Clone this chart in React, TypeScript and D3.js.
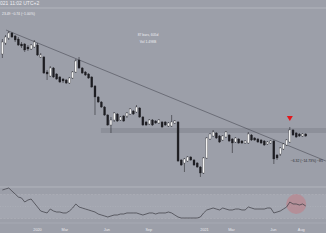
import React from 'react';
import * as d3 from 'd3';

const START = new Date(2019, 9, 16);

const opens = [146,157,162,167,164,161,156,156,153,151,153,155,143,143,128,124,132,126,123,121,120,117,122,128,140,132,128,126,123,114,103,98,93,85,75,80,86,80,84,84,86,89,88,92,83,78,76,80,79,77,78,78,74,74,77,78,40,37,39,43,40,37,33,27,42,61,64,67,64,60,63,65,61,58,61,59,57,57,65,62,61,60,59,56,57,59,45,46,51,55,58,70,67,66,64,66];
const highs = [161,165,169,168,165,163,158,157,155,156,160,157,147,144,130,134,133,127,124,122,121,123,129,141,143,133,129,127,124,115,104,99,94,86,83,88,87,84,85,88,92,90,95,93,84,79,81,81,80,81,79,79,78,85,80,79,41,42,44,44,41,38,34,43,63,67,70,68,65,65,69,66,62,63,62,60,60,68,66,63,62,61,60,59,60,60,46,53,57,61,73,71,68,67,67,67];
const lows = [142,155,160,162,158,154,152,148,149,150,152,144,142,126,120,123,122,120,117,117,116,116,121,127,131,126,124,121,112,85,97,92,84,74,67,78,78,79,78,82,85,85,87,82,74,74,75,74,76,76,72,74,73,73,76,38,34,28,38,39,34,32,23,26,41,60,63,61,57,59,62,58,47,57,56,56,56,56,59,59,57,56,54,55,56,36,40,44,50,54,57,64,62,63,63,63];
const closes = [158,163,167,163,160,155,154,150,151,155,158,145,145,127,126,132,123,121,118,119,117,122,128,139,132,127,125,122,113,103,98,93,85,75,80,87,79,83,79,87,91,86,93,83,75,75,80,75,77,80,73,75,77,78,79,39,35,41,43,40,35,33,27,42,62,66,68,62,58,64,68,59,57,62,57,57,59,66,60,60,58,57,55,58,59,41,42,52,56,60,70,65,63,64,66,64];
const rsiValues = [77.5,79.2,80.8,75.8,70.8,65.8,64.2,57.5,60.8,62.5,55.8,49.2,42.5,40.8,39.2,45.8,42.5,40.8,40.8,39.2,39.2,42.5,47.5,54.2,49.2,47.5,45.8,44.2,42.5,40.8,37.5,35.8,34.2,32.5,34.2,35.8,35.8,37.5,37.5,39.2,39.2,39.2,39.2,37.5,35.8,37.5,39.2,39.2,37.5,39.2,39.2,39.2,40.8,39.2,35.8,32.5,30.8,30.8,30.8,30.8,30.8,30.8,32.5,39.2,44.2,45.8,47.5,45.8,44.2,47.5,45.8,44.2,44.2,45.8,45.8,44.2,44.2,49.2,47.5,45.8,45.8,45.8,45.8,47.5,47.5,39.2,40.8,42.5,45.8,49.2,57.5,54.2,54.2,52.5,54.2,50.8];

const tickDates = [new Date(2020,0,1), new Date(2020,2,1), new Date(2020,5,1), new Date(2020,8,1), new Date(2021,0,1), new Date(2021,2,1), new Date(2021,5,1), new Date(2021,7,1)];
const tickLabels = ['2020','Mar','Jun','Sep','2021','Mar','Jun','Aug'];

const trendDates = [new Date(2019,9,24), new Date(2021,8,24)];
const trendValues = [170, 39];
const zoneStart = new Date(2020,4,19);
const zoneValues = [67, 72];
const rsiLevels = [70, 50, 30];

const headerText = '021 11:02 UTC+2';
const ohlcText = '23.49 \u22120.74 (\u22121.00%)';
const rangeText = ['87 bars, 605d', 'Vol 1.498B'];
const measureText = '\u22126.32 (\u221214.73%) \u221285';
const markerIndex = 90;
const markerValue = 84;
const circleIndex = 92;
const measureValue = 38;

export default function App() {
  const W = 326, H = 245;
  const n = opens.length;
  const dates = d3.range(n).map(i => d3.timeDay.offset(START, 7 * i));
  const x = d3.scaleTime().domain([new Date(2020,0,1), new Date(2021,0,1)]).range([37.5, 204.5]);
  const y = d3.scaleLinear().domain([0, 200]).range([200, 0]);
  const yR = d3.scaleLinear().domain([0, 100]).range([236.5, 176.5]);
  const rsiLine = d3.line<number>().x((_, i) => x(dates[i])).y(d => yR(d));
  const font = "'Liberation Sans', Arial, sans-serif";
  const bw = 2;
  const mx = x(dates[markerIndex]);
  const my = y(markerValue);
  return (
    <svg width={W} height={H} style={{ position: 'absolute', left: 0, top: 0 }} fontFamily={font}>
      <rect x={0} y={0} width={W} height={H} fill="#ffffff" />
      <rect x={0} y={0} width={W} height={233} fill="#9c9fa9" />
      <line x1={0} x2={W} y1={8} y2={8} stroke="#b9bbc3" strokeWidth={0.8} />
      <text x={0} y={5} fontSize={5} fill="#eeeef2">{headerText}</text>
      <text x={2} y={14.5} fontSize={3.4} fill="#f2f2f5">{ohlcText}</text>
      <text x={148} y={36} fontSize={3.4} fill="#eeeef2" textAnchor="middle">{rangeText[0]}</text>
      <text x={148} y={43} fontSize={3.4} fill="#eeeef2" textAnchor="middle">{rangeText[1]}</text>
      {/* resistance zone */}
      <rect x={x(zoneStart)} y={y(zoneValues[1])} width={W - x(zoneStart)} height={y(zoneValues[0]) - y(zoneValues[1])} fill="#8d909a" />
      {/* trendline */}
      <line x1={x(trendDates[0])} y1={y(trendValues[0])} x2={x(trendDates[1])} y2={y(trendValues[1])} stroke="#4a4c55" strokeWidth={0.6} />
      {/* candles */}
      {dates.map((d, i) => {
        const cx = x(d);
        const up = closes[i] >= opens[i];
        const top = y(Math.max(opens[i], closes[i]));
        const bot = y(Math.min(opens[i], closes[i]));
        return (
          <g key={i}>
            <line x1={cx} x2={cx} y1={y(highs[i])} y2={y(lows[i])} stroke="#2b2b30" strokeWidth={0.6} />
            <rect x={cx - bw / 2} y={top} width={bw} height={Math.max(0.8, bot - top)} fill={up ? '#f3f3f3' : '#1d1d22'} stroke="#2b2b30" strokeWidth={0.3} />
          </g>
        );
      })}
      {/* marker */}
      <path d={`M${mx - 3},${my} L${mx + 3},${my} L${mx},${my + 5} Z`} fill="#e3161b" />
      <text x={x(dates[markerIndex]) + 1} y={y(measureValue)} fontSize={3.4} fill="#2a2a30">{measureText}</text>
      {/* RSI pane */}
      <line x1={0} x2={W} y1={187} y2={187} stroke="#b8bac2" strokeWidth={0.8} />
      <rect x={0} y={yR(70)} width={W} height={yR(30) - yR(70)} fill="#a3a6b0" />
      {rsiLevels.map((lv, k) => (
        <line key={k} x1={0} x2={W} y1={yR(lv)} y2={yR(lv)} stroke="#b3b5bd" strokeWidth={0.5} strokeDasharray={lv === 50 ? '1,1.5' : '2,1.5'} />
      ))}
      <circle cx={x(dates[circleIndex])} cy={yR(rsiValues[circleIndex])} r={10} fill="#c9747c" fillOpacity={0.45} />
      <path d={rsiLine(rsiValues) || ''} fill="none" stroke="#3b3b42" strokeWidth={0.7} />
      <line x1={0} x2={W} y1={223} y2={223} stroke="#b3b5bd" strokeWidth={0.5} />
      {tickDates.map((d, i) => (
        <text key={i} x={x(d)} y={230.5} fontSize={3.8} fill="#eaeaee" textAnchor="middle">{tickLabels[i]}</text>
      ))}
    </svg>
  );
}
